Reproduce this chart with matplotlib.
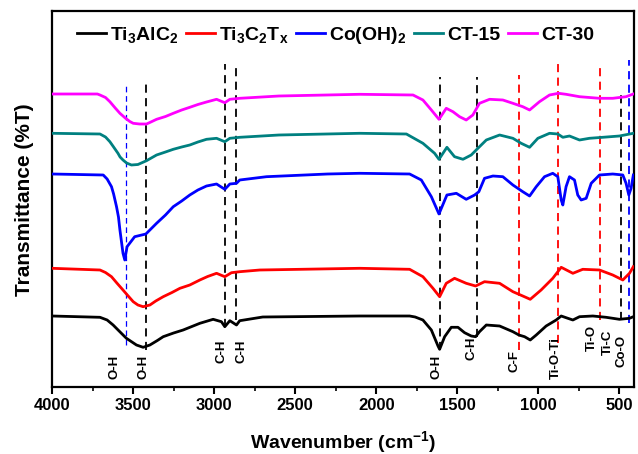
import numpy as np
import matplotlib
matplotlib.use("Agg")
import matplotlib.pyplot as plt

plt.rcParams["font.family"] = ["Liberation Sans", "DejaVu Sans"]
plt.rcParams["font.weight"] = "bold"
plt.rcParams["mathtext.default"] = "regular"

# ------------------------------------------------------------------ spectra
# stacked FTIR spectra, transmittance in arbitrary (offset) units
wn_ct30 = [4000, 3720, 3704, 3670, 3643, 3610, 3581, 3546, 3520, 3499, 3460, 3417,
           3390, 3355, 3300, 3252, 3200, 3150, 3100, 3047, 2985,
           2934, 2903, 2842, 2600, 2102, 1773, 1712, 1660, 1613, 1568, 1527, 1486,
           1445, 1404, 1363, 1301, 1219, 1157, 1096, 1054, 993, 931, 876, 829, 746,
           623, 541, 459, 414]
t_ct30 = [293, 293, 292, 289.5, 285.3, 279, 273.7, 268.7, 265.5, 263.7, 263, 263,
          265, 267.7, 270.5, 273.7, 277, 279.7, 282.5, 285, 287.7,
          284.3, 287.7, 288.7, 291, 292.7, 292, 287, 277, 267.7, 278.7, 275.3, 270.3,
          267, 272, 283.7, 287.7, 287, 283.7, 280.3, 277, 285.3, 292, 293.7, 292.7, 290.3,
          288.7, 288.7, 290.3, 293]

wn_ct15 = [4000, 3704, 3670, 3643, 3620, 3593, 3580, 3562, 3540, 3510, 3470, 3417,
           3355, 3300, 3252, 3200, 3150, 3100, 3047, 2985,
           2934, 2903, 2842, 2600, 2102, 1814, 1712, 1640, 1613, 1564, 1517, 1465,
           1414, 1373, 1321, 1239, 1157, 1106, 1054, 1003, 931, 880, 849, 808, 746,
           685, 603, 500, 414]
t_ct15 = [253.7, 253, 250, 245.3, 240, 233.7, 230, 227, 224, 222, 222.5, 226.3,
          232, 235, 237.7, 240, 242, 245, 247.7, 248.7,
          245.3, 248.7, 249.7, 252, 253.7, 253, 243.7, 233.7, 227.7, 239.7, 230.3, 227.7,
          232, 238.7, 247, 252, 248.7, 243.7, 239.7, 248.7, 253.7, 253, 249.7, 251, 247,
          248.7, 249.7, 251, 253.7]

wn_coh = [4000, 3684, 3660, 3633, 3620, 3602, 3590, 3581, 3562, 3551, 3537, 3490,
          3421, 3355, 3300, 3252, 3200,
          3150, 3100, 3047, 2985, 2934, 2903, 2862, 2842, 2677, 2300, 2102, 1794, 1722,
          1660, 1613, 1564, 1506, 1445, 1393, 1367, 1332, 1280, 1219, 1157, 1096,
          1054, 1013, 962, 911, 880, 859, 849, 829, 808, 777, 757, 736, 705, 674,
          623, 541, 479, 459, 442, 428, 414]
t_coh = [213, 212, 208, 200.3, 193, 180.3, 170, 157, 133.7, 127, 140.3, 150.3,
         153, 163.7, 172, 180.3, 186,
         192, 197, 201, 203, 197.7, 203, 203.7, 207, 210.3, 213, 213.7, 213, 207,
         190.3, 173, 192, 193.7, 187.7, 192, 195.3, 208.7, 211, 210.3, 202, 195.3,
         191, 200.3, 210.3, 213.7, 210.3, 187, 182, 200.3, 210.3, 207, 192, 187, 188.7, 203.7,
         212, 213, 212, 203.7, 192, 198.7, 212]

wn_mx = [4000, 3704, 3670, 3633, 3600, 3562, 3530, 3499, 3470, 3438, 3396, 3360,
         3314, 3260, 3211, 3150, 3088, 3040, 2985, 2934,
         2893, 2842, 2718, 2102, 1794, 1712, 1650, 1609, 1568, 1517, 1445, 1387,
         1332, 1239, 1157, 1096, 1050, 983, 911, 859, 787, 726, 623, 541, 479, 438, 414]
t_mx = [118.7, 117, 114.5, 110.3, 104, 97, 91, 85.3, 82, 80.3, 82, 86,
        90.3, 94.5, 98.7, 102, 107, 110.5, 113.7, 110.3,
        114.3, 115.3, 117, 118.7, 117.7, 110.3, 98.7, 90.3, 103.7, 108.7, 103.7, 101,
        105.3, 103.7, 95.3, 91, 87.7, 97, 108.7, 119.7, 113.7, 117.7, 117, 112, 107, 113.7, 120.3]

wn_max = [4000, 3704, 3660, 3623, 3580, 3541, 3479, 3438, 3396, 3350, 3314, 3250,
          3191, 3088, 3006, 2955,
          2934, 2903, 2862, 2842, 2700, 2102, 1794, 1760, 1712, 1660, 1619, 1609, 1578,
          1537, 1496, 1455, 1414, 1387, 1363, 1321, 1239, 1157, 1120, 1085, 1050,
          1013, 952, 890, 859, 818, 787, 746, 664, 582, 500, 438, 414]
t_max = [71, 69.7, 67, 62, 55, 48.7, 42, 39.7, 42, 46.5, 50.3, 54,
         57, 63.7, 67.7, 65.3,
         60.3, 66.3, 62, 66.3, 70, 71, 71, 70, 67, 57, 41, 37.7, 50.3,
         59.7, 59.7, 54.3, 51, 50.3, 55.3, 62, 61, 55.3, 52, 50.3, 47,
         52, 61, 67, 71, 68.7, 67, 70.3, 71, 69.7, 67.7, 68.7, 70.3]

# ------------------------------------------------------------------ band markers
band_wn = [3546, 3421, 2934, 2862, 1609, 1381, 1120, 876, 617, 488, 442]
band_col = ["blue", "black", "black", "black", "black", "black",
            "red", "red", "red", "black", "blue"]
band_span = [(42, 304), (37, 303), (60, 323), (67, 323), (37, 310), (50, 310),
             (37, 312), (44, 327), (67, 320), (67, 292), (64, 327)]

label_txt = ["O-H", "O-H", "C-H", "C-H", "O-H", "C-H", "C-F",
             "Ti-O-Ti", "Ti-O", "Ti-C", "Co-O"]
label_wn = [3612, 3437, 2954, 2831, 1626, 1414, 1147, 890, 667, 570, 490]
label_top = [32, 32, 47, 47, 32, 50, 37, 50, 62, 57, 52]

# ------------------------------------------------------------------ figure
fig = plt.figure(figsize=(6.38, 4.54), dpi=100)
ax = fig.add_axes([52 / 638, 67 / 454, 582 / 638, 375.5 / 454])

for wn, col, (y0, y1) in zip(band_wn, band_col, band_span):
    thin = (wn == 3546)
    ax.plot([wn, wn], [y0, y1], color=col, lw=0.9 if thin else 1.3,
            ls=(0, (4.5, 3)), zorder=1)

series = [
    (wn_max, t_max, "black", r"Ti$_3$AlC$_2$"),
    (wn_mx, t_mx, "red", r"Ti$_3$C$_2$T$_x$"),
    (wn_coh, t_coh, "blue", r"Co(OH)$_2$"),
    (wn_ct15, t_ct15, "#008080", "CT-15"),
    (wn_ct30, t_ct30, "#ff00ff", "CT-30"),
]
for wn, t, col, lab in series:
    ax.plot(wn, t, color=col, lw=2.0, label=lab, zorder=3,
            solid_joinstyle="round")

for txt, wn, top in zip(label_txt, label_wn, label_top):
    ax.text(wn, top, txt, rotation=90, ha="center", va="top",
            fontsize=9.5, fontweight="bold")

ax.set_xlim(4000, 410)
ax.set_ylim(0, 375.5)
ax.set_xticks([4000, 3500, 3000, 2500, 2000, 1500, 1000, 500])
ax.set_xticks(np.arange(3750, 400, -500), minor=True)
ax.set_yticks([])
ax.tick_params(axis="x", which="major", direction="out", length=5, width=1.5,
               labelsize=12, pad=3)
ax.tick_params(axis="x", which="minor", direction="out", length=3, width=1.2)
for lab in ax.get_xticklabels():
    lab.set_fontweight("bold")
for sp in ax.spines.values():
    sp.set_linewidth(1.6)

ax.set_xlabel(r"Wavenumber (cm$^{-1}$)", fontsize=14, fontweight="bold")
ax.xaxis.set_label_coords(0.5, -0.112)
ax.set_ylabel("Transmittance (%T)", fontsize=15, fontweight="bold")
ax.yaxis.set_label_coords(-0.031, 0.5)

ax.legend(ncol=5, loc="center", bbox_to_anchor=(0.487, 0.937), frameon=False,
          handlelength=1.5, handletextpad=0.2, columnspacing=0.4,
          prop={"size": 14, "weight": "bold"})

fig.savefig("out.png", dpi=100)
